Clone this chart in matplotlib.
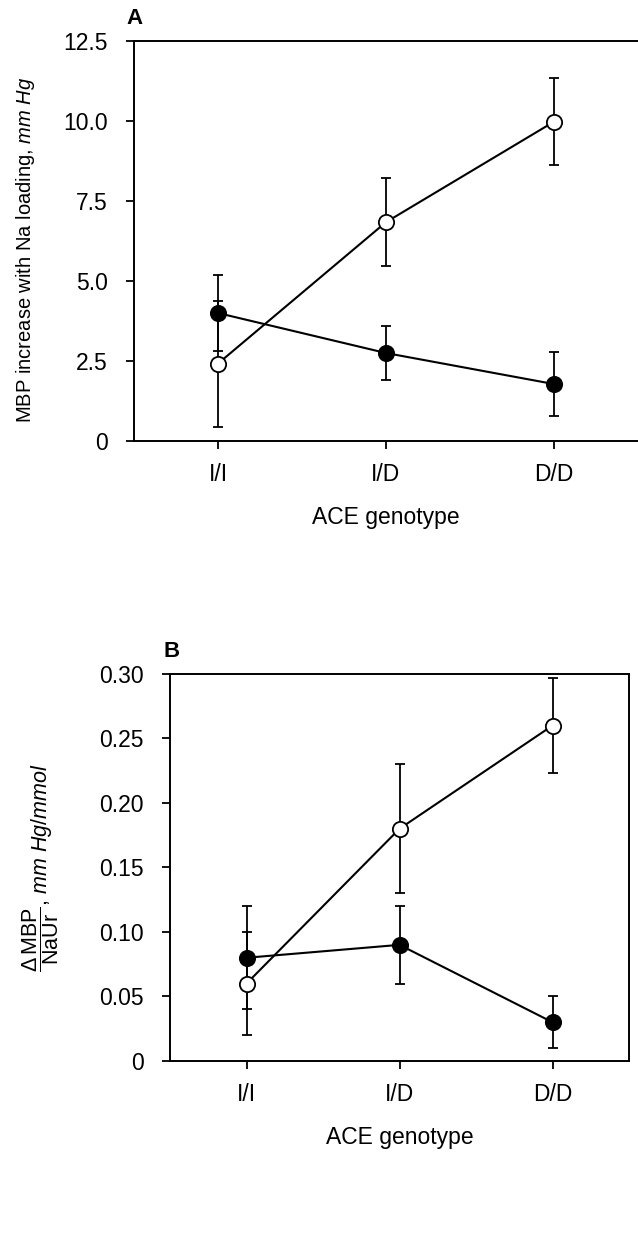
import matplotlib
matplotlib.use("Agg")
import matplotlib.pyplot as plt

plt.rcParams['font.family'] = ['Liberation Sans', 'DejaVu Sans']
plt.rcParams['mathtext.fontset'] = 'custom'
plt.rcParams['mathtext.rm'] = 'Liberation Sans'
plt.rcParams['mathtext.it'] = 'Liberation Sans:italic'
plt.rcParams['mathtext.bf'] = 'Liberation Sans:bold'

genotypes = ["I/I", "I/D", "D/D"]

# panel A: MBP increase with Na loading (mm Hg)
a_filled = [4.0, 2.75, 1.78]
a_filled_err = [1.2, 0.85, 1.0]
a_open = [2.42, 6.84, 9.98]
a_open_err = [1.97, 1.38, 1.36]

# panel B: delta MBP / NaUr (mm Hg/mmol)
b_filled = [0.08, 0.09, 0.03]
b_filled_err = [0.04, 0.03, 0.02]
b_open = [0.06, 0.18, 0.26]
b_open_err = [0.04, 0.05, 0.037]

fs = 16.5
x = range(len(genotypes))

fig = plt.figure(figsize=(6.38, 12.59), dpi=100)
axA = fig.add_axes([0.210, 0.6497, 0.790, 0.3177])
axB = fig.add_axes([0.2665, 0.1573, 0.7194, 0.3074])


def draw(ax, filled, ferr, opened, oerr):
    style = dict(color='black', lw=1.5, elinewidth=1.3, capsize=3.8,
                 capthick=1.3, markersize=11, markeredgewidth=1.3)
    ax.errorbar(x, filled, yerr=ferr, fmt='o-', markerfacecolor='black',
                markeredgecolor='black', zorder=3, **style)
    ax.errorbar(x, opened, yerr=oerr, fmt='o-', markerfacecolor='white',
                markeredgecolor='black', zorder=4, **style)
    ax.set_xlim(-0.5, 2.5)
    ax.set_xticks(list(x))
    ax.set_xticklabels(genotypes)
    ax.tick_params(direction='out', length=6, width=1.3, labelsize=fs)
    ax.tick_params(axis='y', pad=13)
    ax.tick_params(axis='x', pad=10)
    for s in ax.spines.values():
        s.set_linewidth(1.4)
    ax.set_xlabel("ACE genotype", fontsize=fs, labelpad=14)


draw(axA, a_filled, a_filled_err, a_open, a_open_err)
axA.set_ylim(0, 12.5)
axA.set_yticks([0, 2.5, 5, 7.5, 10, 12.5])
axA.set_yticklabels(["0", "2.5", "5.0", "7.5", "10.0", "12.5"])
axA.spines['right'].set_visible(False)
axA.set_ylabel(r"MBP increase with Na loading, $\mathit{mm\ Hg}$",
               fontsize=14.5, va='center')
axA.yaxis.set_label_coords(-0.216, 0.4775)
axA.text(-0.015, 1.03, "A", transform=axA.transAxes, fontsize=16,
         fontweight='bold', ha='left', va='bottom')

draw(axB, b_filled, b_filled_err, b_open, b_open_err)
axB.set_ylim(0, 0.30)
axB.set_yticks([0, 0.05, 0.10, 0.15, 0.20, 0.25, 0.30])
axB.set_yticklabels(["0", "0.05", "0.10", "0.15", "0.20", "0.25", "0.30"])
axB.set_ylabel(r"$\dfrac{\Delta\,\mathrm{MBP}}{\mathrm{NaUr}}$, $\mathit{mm\ Hg/mmol}$",
               fontsize=15.5, va='center')
axB.yaxis.set_label_coords(-0.283, 0.5)
axB.text(-0.015, 1.03, "B", transform=axB.transAxes, fontsize=16,
         fontweight='bold', ha='left', va='bottom')

fig.savefig("out.png", dpi=100)
